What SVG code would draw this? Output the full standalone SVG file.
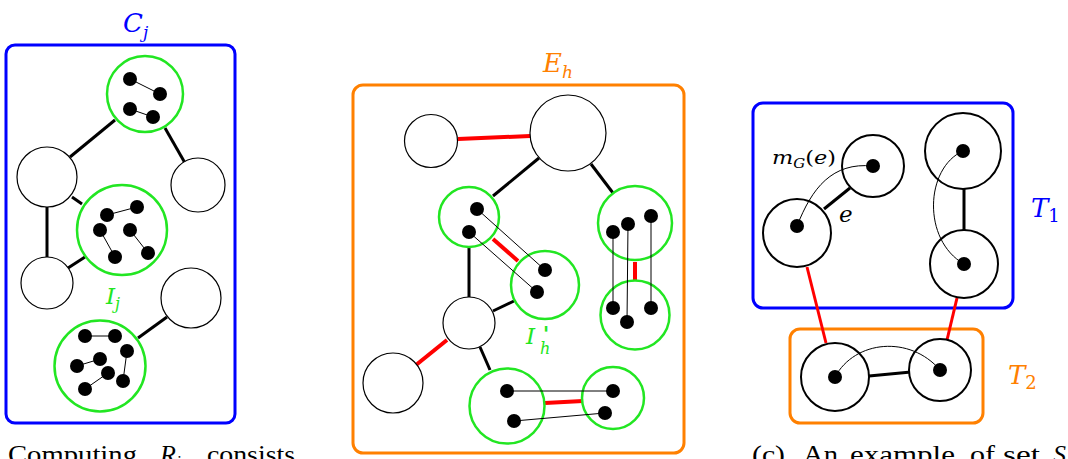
<svg xmlns="http://www.w3.org/2000/svg" width="1068" height="459" viewBox="0 0 1068 459">
<style>
.blue{fill:none;stroke:#0000ff;stroke-width:3}
.orange{fill:none;stroke:#ff8000;stroke-width:3}
.grn{fill:#fff;stroke:#22e622;stroke-width:2.5}
.wc{fill:#fff;stroke:#000;stroke-width:1.2}
.bc{fill:#fff;stroke:#000;stroke-width:2}
.dot{fill:#000}
.e{stroke:#000;stroke-width:3;fill:none}
.r{stroke:#ff0000;stroke-width:4;fill:none}
.r3{stroke:#ff0000;stroke-width:3;fill:none}
.t{stroke:#000;stroke-width:1;fill:none}
.m{font-family:"DejaVu Serif","Liberation Serif",serif;font-style:italic}
.cap{font-family:"Liberation Serif",serif;font-size:26px;fill:#000}
</style>
<g id="panel-a">
<rect id="Cj-box" class="blue" x="6" y="45" width="229" height="378" rx="9"/>
<text class="m" x="123" y="32" font-size="26" fill="#0000ff">C<tspan font-size="17" dy="6">j</tspan></text>
<g id="a-connectors">
<line class="e" x1="115" y1="120" x2="70" y2="157"/>
<line class="e" x1="165" y1="128" x2="185" y2="163"/>
<line class="e" x1="72" y1="197" x2="82" y2="204"/>
<line class="e" x1="47" y1="207" x2="47" y2="257"/>
<line class="e" x1="68" y1="268" x2="85" y2="257"/>
<line class="e" x1="138" y1="338" x2="167" y2="317"/>
</g>
<g id="a-top-green">
<circle class="grn" cx="145" cy="94" r="38"/>
<line class="t" x1="130" y1="79" x2="160" y2="94"/>
<line class="t" x1="130" y1="109" x2="153" y2="117"/>
<circle class="dot" cx="130" cy="79" r="7"/><circle class="dot" cx="160" cy="94" r="7"/>
<circle class="dot" cx="130" cy="109" r="7"/><circle class="dot" cx="153" cy="117" r="7"/>
</g>
<g id="a-left-white"><circle class="wc" cx="47" cy="177" r="30"/></g>
<g id="a-right-white"><circle class="wc" cx="198" cy="185" r="27"/></g>
<g id="a-mid-green">
<circle class="grn" cx="122" cy="230" r="45"/>
<line class="t" x1="107" y1="215" x2="137" y2="207"/>
<line class="t" x1="100" y1="230" x2="115" y2="257"/>
<line class="t" x1="130" y1="230" x2="148" y2="253"/>
<circle class="dot" cx="107" cy="215" r="7"/><circle class="dot" cx="137" cy="207" r="7"/>
<circle class="dot" cx="100" cy="230" r="7"/><circle class="dot" cx="130" cy="230" r="7"/>
<circle class="dot" cx="115" cy="257" r="7"/><circle class="dot" cx="148" cy="253" r="7"/>
</g>
<g id="a-bl-white"><circle class="wc" cx="47" cy="283" r="26"/></g>
<g id="a-br-white"><circle class="wc" cx="191" cy="298" r="30"/></g>
<g id="a-bottom-green">
<circle class="grn" cx="100" cy="366" r="45.5"/>
<line class="t" x1="85" y1="336" x2="115" y2="336"/>
<line class="t" x1="77" y1="366" x2="100" y2="359"/>
<line class="t" x1="108" y1="373" x2="85" y2="389"/>
<line class="t" x1="127" y1="351" x2="123" y2="381"/>
<circle class="dot" cx="85" cy="336" r="7"/><circle class="dot" cx="115" cy="336" r="7"/>
<circle class="dot" cx="127" cy="351" r="7"/><circle class="dot" cx="77" cy="366" r="7"/>
<circle class="dot" cx="100" cy="359" r="7"/><circle class="dot" cx="108" cy="373" r="7"/>
<circle class="dot" cx="123" cy="381" r="7"/><circle class="dot" cx="85" cy="389" r="7"/>
</g>
<text class="m" x="106" y="304" font-size="23" fill="#22e622">I<tspan font-size="16" dy="5">j</tspan></text>
<g class="cap">
<text x="8" y="463" textLength="129" lengthAdjust="spacingAndGlyphs">Computing</text>
<text x="160" y="463" font-style="italic">R<tspan font-size="17" dy="4">j</tspan></text>
<text x="207" y="463" textLength="88" lengthAdjust="spacingAndGlyphs">consists</text>
</g>
</g>
<g id="panel-b">
<rect id="Eh-box" class="orange" x="353" y="85" width="331" height="368" rx="10"/>
<text class="m" x="543" y="72" font-size="26" fill="#ff8000">E<tspan font-size="17" dy="6">h</tspan></text>
<g id="b-connectors">
<line class="r" x1="458" y1="139" x2="530" y2="136"/>
<line class="e" x1="539" y1="158" x2="493" y2="196"/>
<line class="e" x1="591" y1="164" x2="613" y2="193"/>
<line class="r" x1="493" y1="239" x2="518" y2="261"/>
<line class="r" x1="635" y1="262" x2="635" y2="281"/>
<line class="e" x1="469" y1="247" x2="469" y2="297"/>
<line class="e" x1="493" y1="311" x2="514" y2="301"/>
<line class="r" x1="447" y1="340" x2="416" y2="365"/>
<line class="e" x1="480" y1="347" x2="490" y2="370"/>
<line class="r" x1="545" y1="403" x2="583" y2="401"/>
</g>
<g id="b-tl-white"><circle class="wc" cx="431" cy="141" r="26.5"/></g>
<g id="b-top-white"><circle class="wc" cx="568" cy="133" r="38"/></g>
<g id="b-left-green"><circle class="grn" cx="469" cy="217" r="30"/></g>
<g id="b-midright-green"><circle class="grn" cx="545" cy="285" r="34"/></g>
<g id="b-right-green-up"><circle class="grn" cx="635" cy="223" r="37"/></g>
<g id="b-right-green-low"><circle class="grn" cx="635" cy="315" r="34.5"/></g>
<g id="b-mid-white"><circle class="wc" cx="469" cy="323" r="26"/></g>
<g id="b-bl-white"><circle class="wc" cx="393" cy="383" r="30"/></g>
<g id="b-bottom-green-left"><circle class="grn" cx="507" cy="406" r="37.5"/></g>
<g id="b-bottom-green-right"><circle class="grn" cx="613" cy="398" r="31"/></g>
<g id="b-inner">
<line class="t" x1="477" y1="209" x2="545" y2="270"/>
<line class="t" x1="469" y1="232" x2="537" y2="292"/>
<line class="t" x1="613" y1="232" x2="613" y2="308"/>
<line class="t" x1="628" y1="224" x2="627" y2="322"/>
<line class="t" x1="651" y1="216" x2="651" y2="308"/>
<line class="t" x1="507" y1="391" x2="613" y2="391"/>
<line class="t" x1="514" y1="421" x2="605" y2="413"/>
<circle class="dot" cx="477" cy="209" r="7"/><circle class="dot" cx="469" cy="232" r="7"/>
<circle class="dot" cx="545" cy="270" r="7"/><circle class="dot" cx="537" cy="292" r="7"/>
<circle class="dot" cx="613" cy="232" r="7"/><circle class="dot" cx="628" cy="224" r="7"/>
<circle class="dot" cx="651" cy="216" r="7"/>
<circle class="dot" cx="613" cy="308" r="7"/><circle class="dot" cx="627" cy="322" r="7"/>
<circle class="dot" cx="651" cy="308" r="7"/>
<circle class="dot" cx="507" cy="391" r="7"/><circle class="dot" cx="514" cy="421" r="7"/>
<circle class="dot" cx="613" cy="391" r="7"/><circle class="dot" cx="605" cy="413" r="7"/>
</g>
<text class="m" x="526" y="344" font-size="23" fill="#22e622">I<tspan x="543" y="341" font-size="20" font-weight="bold">'</tspan><tspan x="540" y="354" font-size="16">h</tspan></text>
</g>
<g id="panel-c">
<rect id="T1-box" class="blue" x="753" y="103" width="260" height="205" rx="10"/>
<rect id="T2-box" class="orange" x="790" y="329" width="193" height="94" rx="10"/>
<text class="m" x="1031" y="217" font-size="26" fill="#0000ff">T<tspan font-size="18" dy="5" font-style="normal">1</tspan></text>
<text class="m" x="1008" y="384" font-size="26" fill="#ff8000">T<tspan font-size="18" dy="5" font-style="normal">2</tspan></text>
<g id="c-connectors">
<line class="e" x1="824" y1="209" x2="850" y2="188"/>
<line class="e" x1="964" y1="189" x2="964" y2="230"/>
<line class="e" x1="869" y1="376" x2="911" y2="372"/>
<line class="r3" x1="807" y1="267" x2="826" y2="343"/>
<line class="r3" x1="957" y1="298" x2="947" y2="340"/>
</g>
<g id="c-left"><circle class="bc" cx="797" cy="233" r="34"/></g>
<g id="c-up"><circle class="bc" cx="873" cy="166" r="31"/></g>
<g id="c-right-up"><circle class="bc" cx="963" cy="151" r="38"/></g>
<g id="c-right-low"><circle class="bc" cx="964" cy="264" r="34"/></g>
<g id="c-t2-left"><circle class="bc" cx="835" cy="377" r="34"/></g>
<g id="c-t2-right"><circle class="bc" cx="940" cy="370" r="31"/></g>
<g id="c-inner">
<path class="t" d="M797,226 C812,188 832,162 873,166"/>
<path class="t" d="M963,151 C925,168 922,240 964,264"/>
<path class="t" d="M835,377 C855,340 910,335 940,370"/>
<circle class="dot" cx="797" cy="226" r="7"/><circle class="dot" cx="873" cy="166" r="7"/>
<circle class="dot" cx="963" cy="151" r="7"/><circle class="dot" cx="964" cy="264" r="7"/>
<circle class="dot" cx="835" cy="377" r="7"/><circle class="dot" cx="940" cy="370" r="7"/>
</g>
<text class="m" x="772" y="164" font-size="18" fill="#000" textLength="64" lengthAdjust="spacingAndGlyphs">m<tspan font-size="12" dy="4">G</tspan><tspan dy="-4" font-style="normal">(</tspan>e<tspan font-style="normal">)</tspan></text>
<text class="m" x="839" y="222" font-size="23" fill="#000">e</text>
<g class="cap">
<text x="752" y="463" textLength="33" lengthAdjust="spacingAndGlyphs">(c)</text>
<text x="803" y="463" textLength="35" lengthAdjust="spacingAndGlyphs">An</text>
<text x="850" y="463" textLength="105" lengthAdjust="spacingAndGlyphs">example</text>
<text x="970" y="463" textLength="25" lengthAdjust="spacingAndGlyphs">of</text>
<text x="1003" y="463" textLength="37" lengthAdjust="spacingAndGlyphs">set</text>
<text x="1053" y="463" font-style="italic">S</text>
</g>
</g>
</svg>
